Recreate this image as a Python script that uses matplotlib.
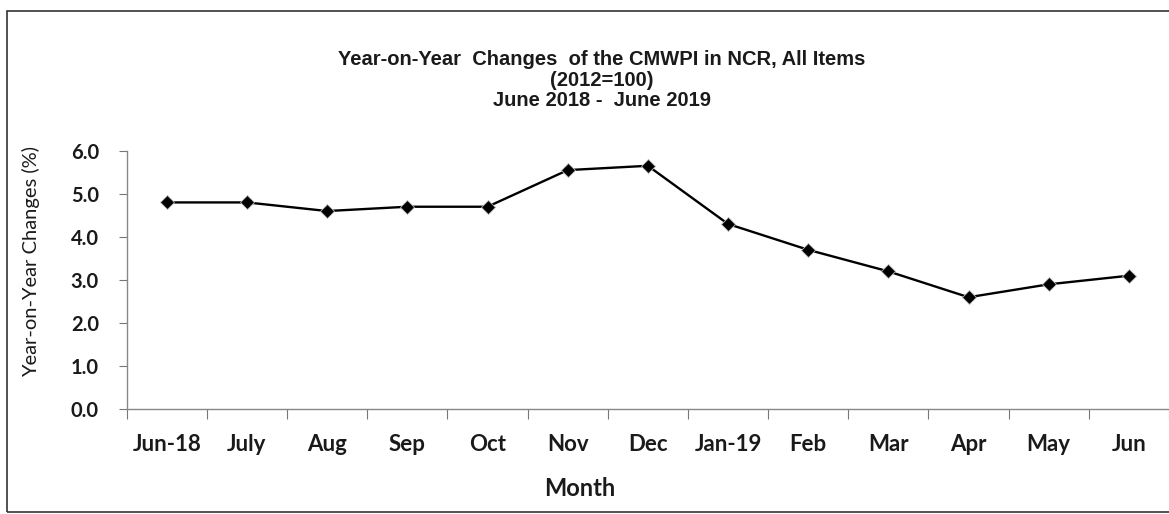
import matplotlib
matplotlib.use("Agg")
import matplotlib.pyplot as plt
from matplotlib.patches import Rectangle

months = ['Jun-18', 'July', 'Aug', 'Sep', 'Oct', 'Nov', 'Dec',
          'Jan-19', 'Feb', 'Mar', 'Apr', 'May', 'Jun']
yoy_change = [4.8, 4.8, 4.6, 4.7, 4.7, 5.55, 5.65, 4.3, 3.7, 3.2, 2.6, 2.9, 3.1]
y_ticks = [0.0, 1.0, 2.0, 3.0, 4.0, 5.0, 6.0]

fig = plt.figure(figsize=(11.69, 5.14), dpi=100)
ax = fig.add_axes([0.1084, 0.2037, 0.8916, 0.5031])

# outer frame of the chart
fig.patches.append(Rectangle((0.006, 0.004), 1.2, 0.975, transform=fig.transFigure,
                             fill=False, edgecolor='#333333', linewidth=1.2))

x = list(range(len(months)))
ax.plot(x, yoy_change, color='black', linewidth=1.7, marker='D', markersize=7,
        markerfacecolor='black', markeredgecolor='#bbbbbb', markeredgewidth=0.6)

ax.set_xlim(-0.5, 12.36)
ax.set_ylim(0, 6)
ax.set_yticks(y_ticks)
ax.set_yticklabels(['%.1f' % v for v in y_ticks], fontfamily='Lato',
                   fontweight='bold', fontsize=14.5, color='#1a1a1a')
ax.set_xticks(x)
ax.set_xticklabels(months, fontfamily='Lato', fontweight='bold', fontsize=16,
                   color='#1a1a1a')
ax.set_xticks([i + 0.5 for i in range(-1, len(months))], minor=True)
ax.tick_params(axis='x', which='major', length=0, pad=18)
ax.tick_params(axis='x', which='minor', length=7, color='#777777', width=0.8)
ax.tick_params(axis='y', length=6, color='#777777', width=0.8, pad=14)

for s in ['top', 'right']:
    ax.spines[s].set_visible(False)
for s in ['left', 'bottom']:
    ax.spines[s].set_color('#888888')
    ax.spines[s].set_linewidth(1.0)

ax.set_xlabel('Month', fontfamily='Lato', fontweight='bold', fontsize=17,
              color='#1a1a1a')
ax.xaxis.set_label_coords(0.435, -0.262)
ax.set_ylabel('Year-on-Year Changes (%)', fontfamily='Lato', fontsize=14.5,
              color='#1a1a1a')
ax.yaxis.set_label_coords(-0.083, 0.573)

fig.text(0.515, 0.844, 'Year-on-Year  Changes  of the CMWPI in NCR, All Items\n'
         '(2012=100)\nJune 2018 -  June 2019', ha='center', va='center',
         fontfamily='Liberation Sans', fontweight='bold', fontsize=14.5,
         linespacing=1.1, color='#1a1a1a')

fig.savefig('out.png', dpi=100)
